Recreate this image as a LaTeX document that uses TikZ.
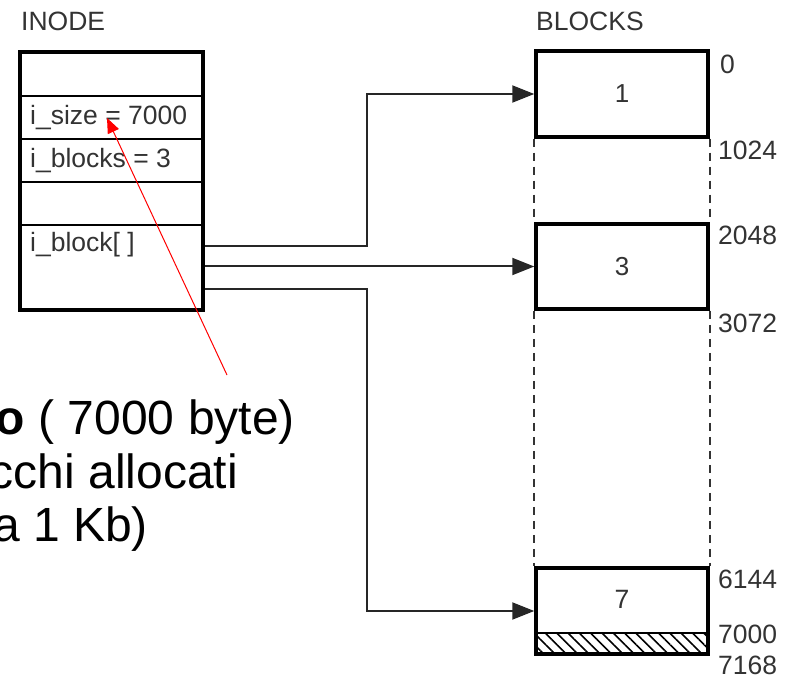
\documentclass[tikz,border=0pt]{standalone}
\usepackage{fontspec}
\setmainfont{Liberation Sans}
\usetikzlibrary{positioning,arrows.meta,patterns.meta}

\begin{document}
\begin{tikzpicture}[x=1pt,y=-1pt,
    inodebox/.style={draw, line width=3.5pt, minimum width=183pt, minimum height=258pt, inner sep=0pt},
    blockbox/.style={draw, line width=3.5pt, minimum width=172pt, minimum height=86pt, inner sep=0pt,
                     font=\fontsize{26}{28}\selectfont, text=black!80},
    small/.style={font=\fontsize{26.5}{28}\selectfont, text=black!80, inner sep=0pt},
    offset/.style={small, anchor=west},
    ptr/.style={-{Triangle[length=22pt,width=17pt]}, line width=2pt, draw=black!85},
    gap/.style={dash pattern=on 8pt off 6pt, line width=2.2pt, draw=black!80},
    big/.style={font=\fontsize{48}{53}\selectfont, inner sep=0pt, anchor=base east}
  ]
  \useasboundingbox (0,0) rectangle (795,676);

  % titles
  \node[small, anchor=west] (inodetitle) at (21,21) {INODE};
  \node[small, anchor=west] (blockstitle) at (536,21) {BLOCKS};

  % the inode and its fields
  \node[inodebox] (inode) at (111.5,181) {};
  \foreach \y in {96,139,182,225}
    \draw[line width=2pt] (20,\y) -- (203,\y);
  \node[small, anchor=west] (isize) at (30,118) {i\_size = 7000};
  \node[small, anchor=west] (iblocks) at (30,161) {i\_blocks = 3};
  \node[small, anchor=west] (iblock) at (30,245) {i\_block[ ]};

  % data blocks
  \node[blockbox] (b1) at (622,94) {1};
  \node[blockbox, minimum height=85pt] (b3) at (622,266.5) {3};
  \node[blockbox] (b7) at (622,611) {};
  \node[small] (b7txt) at ([yshift=-33pt]b7.north) {7};
  % unused tail of block 7
  \fill[pattern={Lines[angle=-45, distance=8pt, line width=1.6pt]}]
    (537.75,633) rectangle (706.25,652.25);
  \draw[line width=2pt] (536,633) -- (708,633);

  \draw[gap] (b1.south west) -- (b3.north west);
  \draw[gap] (b1.south east) -- (b3.north east);
  \draw[gap] (b3.south west) -- (b7.north west);
  \draw[gap] (b3.south east) -- (b7.north east);

  % byte offsets
  \node[offset] (o0) at (720,64) {0};
  \node[offset] (o1024) at (718,150) {1024};
  \node[offset] (o2048) at (718,235) {2048};
  \node[offset] (o3072) at (718,323) {3072};
  \node[offset] (o6144) at (718,579) {6144};
  \node[offset] (o7000) at (718,634) {7000};
  \node[offset] (o7168) at (718,665) {7168};

  % pointers from i_block[]
  \draw[ptr] ([yshift=-65pt]inode.east) -- ++(162,0) |- (b1.west);
  \draw[ptr] (inode.east |- b3.west) -- (b3.west);
  \draw[ptr] ([yshift=-108pt]inode.east) -- ++(162,0) |- (b7.west);

  % note
  \node[big] (note1) at (295,434) {\textbf{o} ( 7000 byte)};
  \node[big] (note2) at (238,488) {cchi allocati};
  \node[big] (note3) at (148,541) {a 1 Kb)};
  \coordinate (notetip) at (227,375);
  \coordinate (sizeval) at (107,118);
  \draw[red, line width=1pt, -{Triangle[length=15pt,width=12pt]}] (notetip) -- (sizeval);
\end{tikzpicture}
\end{document}
